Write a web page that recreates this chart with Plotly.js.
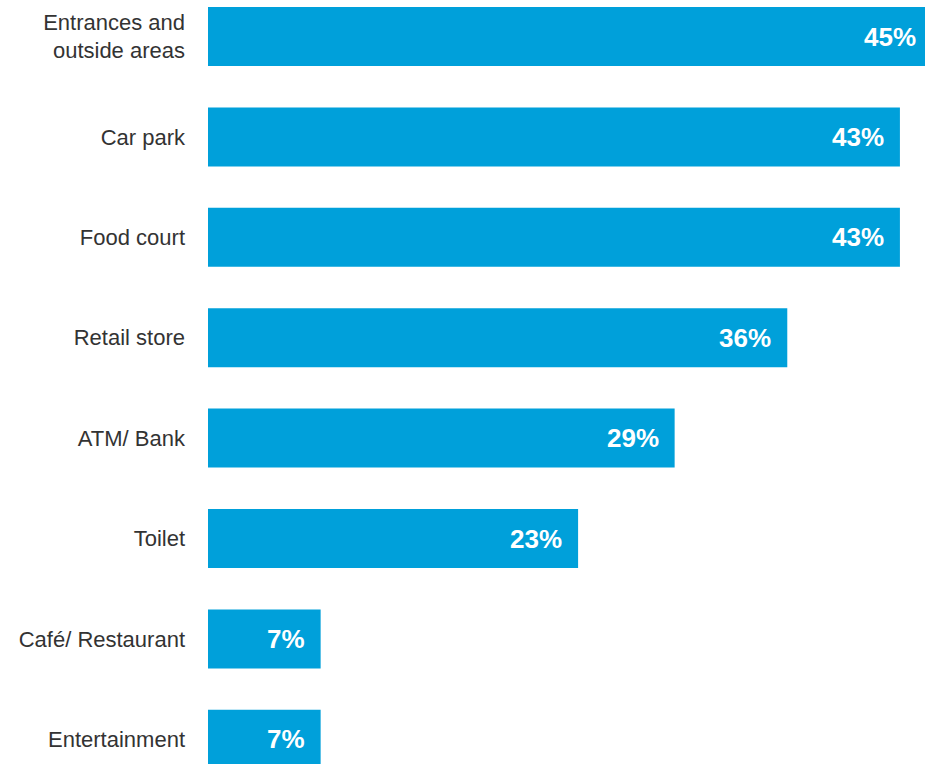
<!DOCTYPE html>
<html>
<head>
<meta charset="utf-8">
<script src="https://cdn.plot.ly/plotly-3.0.1.min.js"></script>
<style>
html, body { margin: 0; padding: 0; overflow: hidden; background: #fff; width: 925px; height: 764px; }
#chart { width: 935px; height: 790px; }
</style>
</head>
<body>
<div id="chart"></div>
<script>
const categories = ["Entrances and<br>outside areas", "Car park", "Food court", "Retail store", "ATM/ Bank", "Toilet", "Café/ Restaurant", "Entertainment"];
const values = [45, 43, 43, 36, 29, 23, 7, 7];
const valueLabels = ["45%", "43%", "43%", "36%", "29%", "23%", "7%", "7%"];

const labelFont = "'Liberation Sans Narrow', 'Arial Narrow', 'Liberation Sans', Arial, sans-serif";

const trace = {
  type: 'bar',
  orientation: 'h',
  x: values,
  y: categories,
  marker: { color: '#00A0DA', line: { width: 0 } },
  hoverinfo: 'none'
};

const annotations = values.map((v, i) => ({
  x: v, y: categories[i], xref: 'x', yref: 'y',
  text: '<b>' + valueLabels[i] + '</b>',
  showarrow: false, xanchor: 'right', yanchor: 'middle', xshift: -14,
  font: { family: labelFont, size: 26, color: '#ffffff' }
}));

const layout = {
  width: 935, height: 790,
  margin: { l: 208, r: 0, t: 0, b: 0, pad: 0 },
  paper_bgcolor: '#ffffff', plot_bgcolor: '#ffffff',
  bargap: 0.412,
  showlegend: false,
  xaxis: { range: [0, 45.18], visible: false, fixedrange: true },
  yaxis: {
    type: 'category',
    range: [7.505, -0.3635],
    showgrid: false, zeroline: false, showline: false,
    ticks: '', ticklabelstandoff: 22,
    tickfont: { family: labelFont, size: 22, color: '#333333' },
    fixedrange: true
  },
  annotations: annotations
};

Plotly.newPlot('chart', [trace], layout, { staticPlot: true, displayModeBar: false });
</script>
</body>
</html>
